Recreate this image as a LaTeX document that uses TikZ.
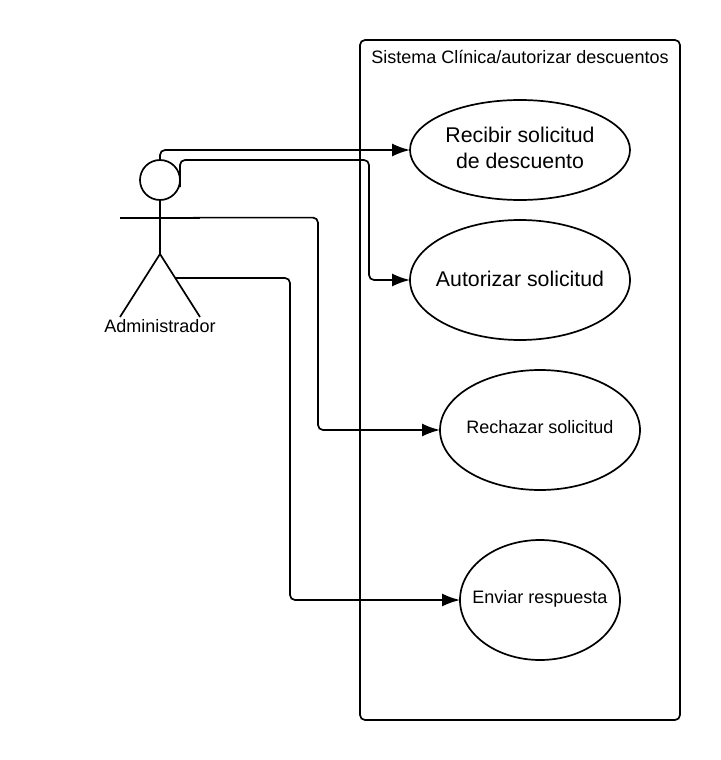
\documentclass[tikz,border=0pt]{standalone}
\usepackage{fontspec}
\setmainfont{Liberation Sans}
\usetikzlibrary{arrows.meta,shapes.geometric}
\tikzset{
  line/.style={draw=black,line width=1.7pt},
  usecase/.style={line,shape=ellipse,inner sep=0pt,outer sep=0pt},
  caption/.style={inner sep=0pt,outer sep=0pt,align=center},
  conn/.style={line,rounded corners=5pt,-{Latex[length=18pt,width=13pt]}}
}
\begin{document}
\begin{tikzpicture}[x=1pt,y=-1pt]
\useasboundingbox (0,0) rectangle (720,760);
\node[line,shape=rectangle,rounded corners=5pt,minimum width=320pt,minimum height=680pt,inner sep=0pt,outer sep=0pt] (sys) at (520,380) {};
\node[caption,font=\fontsize{18}{21}\selectfont] (title) at (520,57) {Sistema Clínica/autorizar descuentos};
\node[usecase,minimum width=220pt,minimum height=100pt] (u1) at (520,150) {};
\node[caption,font=\fontsize{21.3}{26}\selectfont] (t1) at (520,148) {Recibir solicitud\\de descuento};
\node[usecase,minimum width=220pt,minimum height=120pt] (u2) at (520,280) {};
\node[caption,font=\fontsize{21.3}{26}\selectfont] (t2) at (520,279) {Autorizar solicitud};
\node[usecase,minimum width=200pt,minimum height=120pt] (u3) at (540,430) {};
\node[caption,font=\fontsize{18}{21}\selectfont] (t3) at (540,427) {Rechazar solicitud};
\node[usecase,minimum width=160pt,minimum height=120pt] (u4) at (540,600) {};
\node[caption,font=\fontsize{18}{21}\selectfont] (t4) at (540,599) {Enviar respuesta};
\node[line,shape=circle,minimum size=40pt,inner sep=0pt,outer sep=0pt] (head) at (160,180) {};
\coordinate (hip) at (160,254);
\coordinate (armL) at (120,218);
\coordinate (armR) at (200,218);
\coordinate (legL) at (120,317);
\coordinate (legR) at (200,317);
\coordinate (hand) at (193,217.6);
\coordinate (thigh) at (175,278);
\coordinate (side) at (180,187);
\draw[line] (head.south) -- (hip);
\draw[line] (armL) -- (armR);
\draw[line] (legL) -- (hip) -- (legR);
\node[caption,font=\fontsize{18}{21}\selectfont] (actor) at (160,326) {Administrador};
\draw[conn] (head.north) -- (160,150) -- (u1.west);
\draw[conn] (side) -- (180,160) -- (369,160) -- (369,280) -- (u2.west);
\draw[conn] (hand) -- (318,217.6) -- (318,430) -- (u3.west);
\draw[conn] (thigh) -- (290,278) -- (290,600) -- (u4.west);
\end{tikzpicture}
\end{document}
